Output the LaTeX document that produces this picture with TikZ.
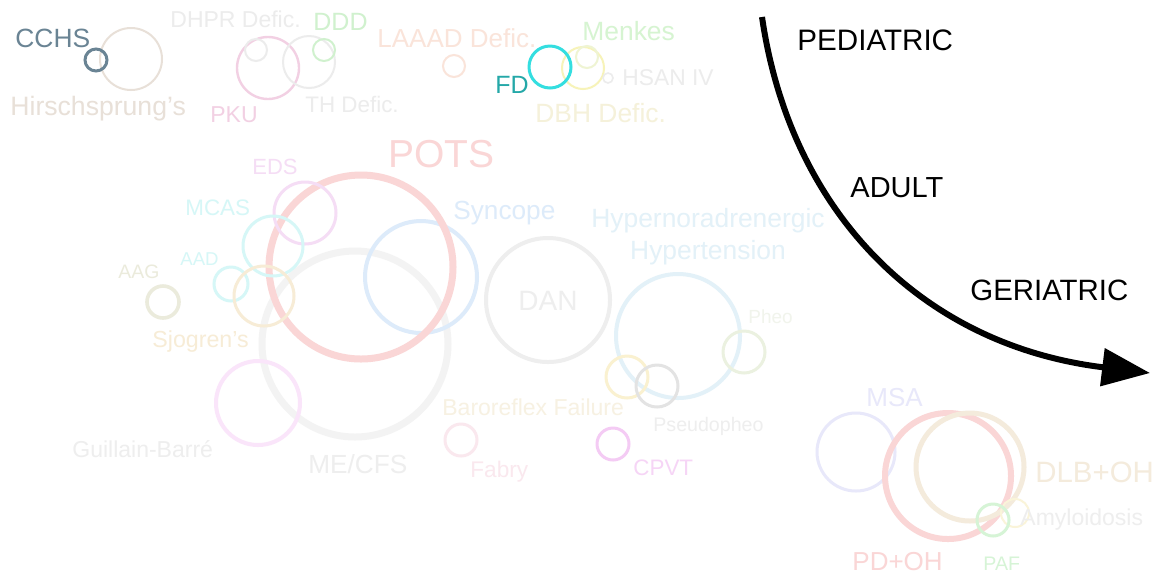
\documentclass[tikz,border=0pt]{standalone}
\usepackage{fontspec}
\setmainfont{Liberation Sans}
\usetikzlibrary{
    arrows.meta
}

% label sizes are given in pt
\newcommand{\lblsize}[1]{\fontsize{#1}{1.25\dimexpr#1\relax}\selectfont}

\definecolor{cchs}{RGB}{106,132,148}
\definecolor{hirsch}{RGB}{232,224,216}
\definecolor{palegray}{RGB}{236,236,236}
\definecolor{pku}{RGB}{242,208,227}
\definecolor{ddd}{RGB}{208,241,206}
\definecolor{laaad}{RGB}{250,228,218}
\definecolor{fdcirc}{RGB}{52,222,224}
\definecolor{fdtext}{RGB}{36,168,168}
\definecolor{dbh}{RGB}{245,241,218}
\definecolor{menkes}{RGB}{214,244,209}
\definecolor{menkesring}{RGB}{239,244,211}
\definecolor{pots}{RGB}{250,214,214}
\definecolor{eds}{RGB}{245,221,245}
\definecolor{mcas}{RGB}{214,247,247}
\definecolor{aag}{RGB}{235,235,220}
\definecolor{sjogren}{RGB}{247,236,214}
\definecolor{syncope}{RGB}{221,235,250}
\definecolor{mecfs}{RGB}{243,243,243}
\definecolor{dan}{RGB}{238,238,238}
\definecolor{hyper}{RGB}{227,241,248}
\definecolor{pheo}{RGB}{235,241,224}
\definecolor{pheotext}{RGB}{241,244,236}
\definecolor{baro}{RGB}{250,241,208}
\definecolor{barotext}{RGB}{247,241,226}
\definecolor{fabry}{RGB}{250,232,238}
\definecolor{cpvt}{RGB}{244,203,244}
\definecolor{guillain}{RGB}{250,229,250}
\definecolor{msa}{RGB}{232,232,250}
\definecolor{dlb}{RGB}{244,235,220}
\definecolor{paf}{RGB}{214,244,214}
\definecolor{amyloid}{RGB}{250,244,217}

\begin{document}
\begin{tikzpicture}[x=0.5pt,y=-0.5pt,
    lbl/.style={inner sep=0pt, anchor=base west},
    ring/.style={line width=#1},
    ring/.default=1.5pt,
    agearrow/.style={line width=3pt, -{Triangle[length=24pt,width=18.5pt]}}
]

\fill[white] (0,0) rectangle (1159,575);
\useasboundingbox (0,0) rectangle (1159,575);

% pediatric group
\draw[ring=1pt, hirsch] (131,59) circle (31);
\draw[ring, cchs] (96,60) circle (11);
\draw[ring=1.2pt, pku] (268,68) circle (31);
\draw[ring=1pt, palegray] (256,50) circle (11);
\draw[ring=1pt, palegray] (309,62) circle (26);
\draw[ring=1pt, ddd] (324,50) circle (11);
\draw[ring=1pt, laaad] (454,66) circle (11);
\draw[ring=1pt, dbh!85!yellow] (583,68) circle (21);
\draw[ring=1pt, menkesring] (587,57) circle (11);
\draw[ring=0.8pt, palegray] (608,78) circle (5);
\draw[ring, fdcirc] (550,67) circle (21);

\node[lbl, cchs, font=\lblsize{13.2pt}] (cchsT) at (15,47) {CCHS};
\node[lbl, hirsch, font=\lblsize{13.3pt}] (hirschT) at (10,115) {Hirschsprung's};
\node[lbl, palegray, font=\lblsize{11.5pt}] (dhprT) at (170,27) {DHPR Defic.};
\node[lbl, ddd, font=\lblsize{12.5pt}] (dddT) at (313,30) {DDD};
\node[lbl, pku, font=\lblsize{11.5pt}] (pkuT) at (210,122) {PKU};
\node[lbl, palegray, font=\lblsize{11.2pt}] (thT) at (305,112) {TH Defic.};
\node[lbl, laaad, font=\lblsize{13pt}] (laaadT) at (377,47) {LAAAD Defic.};
\node[lbl, fdtext, font=\lblsize{12.5pt}] (fdT) at (495,93) {FD};
\node[lbl, menkes, font=\lblsize{13.2pt}] (menkesT) at (582,40) {Menkes};
\node[lbl, palegray, font=\lblsize{11.4pt}] (hsanT) at (622,85) {HSAN IV};
\node[lbl, dbh, font=\lblsize{13.2pt}] (dbhT) at (535,122) {DBH Defic.};

% adult group
\draw[ring=3.5pt, mecfs] (355,344) circle (93);
\draw[ring=2pt, syncope] (421,277) circle (56);
\draw[ring=3.5pt, pots] (361,267) circle (92);
\draw[ring=1.5pt, eds] (305,213) circle (31);
\draw[ring=1.5pt, mcas] (273,246) circle (30);
\draw[ring=1.5pt, mcas] (231,284) circle (17);
\draw[ring=1.5pt, sjogren] (264,296) circle (30);
\draw[ring=1.8pt, aag] (163,302) circle (16);
\draw[ring=2pt, guillain] (258,403) circle (42);
\draw[ring=2pt, dan] (548,300) circle (62);
\draw[ring=2pt, hyper] (678,336) circle (62);
\draw[ring=1.5pt, pheo] (744,352) circle (21);
\draw[ring=1.5pt, baro] (627,377) circle (21);
\draw[ring=1.5pt, dan!90!gray] (657,386) circle (21);
\draw[ring=1.5pt, fabry] (461,440) circle (16);
\draw[ring=1.5pt, cpvt] (613,444) circle (16);

\node[lbl, pots, font=\lblsize{19.5pt}] (potsT) at (388,167) {POTS};
\node[lbl, eds, font=\lblsize{11pt}] (edsT) at (252,174) {EDS};
\node[lbl, mcas, font=\lblsize{11.2pt}] (mcasT) at (185,215) {MCAS};
\node[lbl, mcas, font=\lblsize{9.3pt}] (aadT) at (180,265) {AAD};
\node[lbl, aag, font=\lblsize{9.7pt}] (aagT) at (118,278) {AAG};
\node[lbl, sjogren, font=\lblsize{11.6pt}] (sjogrenT) at (152,347) {Sjogren's};
\node[lbl, syncope, font=\lblsize{13.1pt}] (syncopeT) at (453,219) {Syncope};
\node[hyper, inner sep=0pt, align=center, font=\lblsize{13.2pt}] (hyperT) at (708,237) {Hypernoradrenergic\\[-0.5pt]Hypertension};
\node[lbl, dan, font=\lblsize{14pt}] (danT) at (518,310) {DAN};
\node[lbl, pheotext, font=\lblsize{9.5pt}] (pheoT) at (748,323) {Pheo};
\node[lbl, barotext, font=\lblsize{11.5pt}] (baroT) at (442,415) {Baroreflex Failure};
\node[lbl, dan, font=\lblsize{9.8pt}] (pseudoT) at (653,431) {Pseudopheo};
\node[lbl, fabry, font=\lblsize{11.3pt}] (fabryT) at (470,477) {Fabry};
\node[lbl, cpvt!80!white, font=\lblsize{11.2pt}] (cpvtT) at (633,475) {CPVT};
\node[lbl, dan, font=\lblsize{11.5pt}] (guillainT) at (72,457) {Guillain-Barré};
\node[lbl, dan, font=\lblsize{13.1pt}] (mecfsT) at (308,473) {ME/CFS};

% geriatric group
\draw[ring=1.5pt, msa] (856,452) circle (39);
\draw[ring=3pt, pots] (948,476) circle (63);
\draw[ring=2.5pt, dlb] (970,467) circle (54);
\draw[ring=1pt, amyloid] (1015,513) circle (14);
\draw[ring=1.5pt, paf] (993,520) circle (16);

\node[lbl, msa, font=\lblsize{13pt}] (msaT) at (866,406) {MSA};
\node[lbl, pots, font=\lblsize{13pt}] (pdT) at (852,570) {PD+OH};
\node[lbl, dlb, font=\lblsize{14.7pt}] (dlbT) at (1035,482) {DLB+OH};
\node[lbl, paf, font=\lblsize{9.8pt}] (pafT) at (983,570) {PAF};
\node[lbl, dan, font=\lblsize{11.5pt}] (amyloidT) at (1020,525) {Amyloidosis};

% age axis
\coordinate (ageStart) at (762,17);
\coordinate (ageEnd) at (1150,373);
\draw[agearrow] (ageStart) .. controls (790,210) and (920,345) .. (ageEnd);

\node[lbl, font=\lblsize{14.8pt}] (pedT) at (797,50) {PEDIATRIC};
\node[lbl, font=\lblsize{14.5pt}] (adultT) at (850,197) {ADULT};
\node[lbl, font=\lblsize{14.7pt}] (geriT) at (970,300) {GERIATRIC};

\end{tikzpicture}
\end{document}
